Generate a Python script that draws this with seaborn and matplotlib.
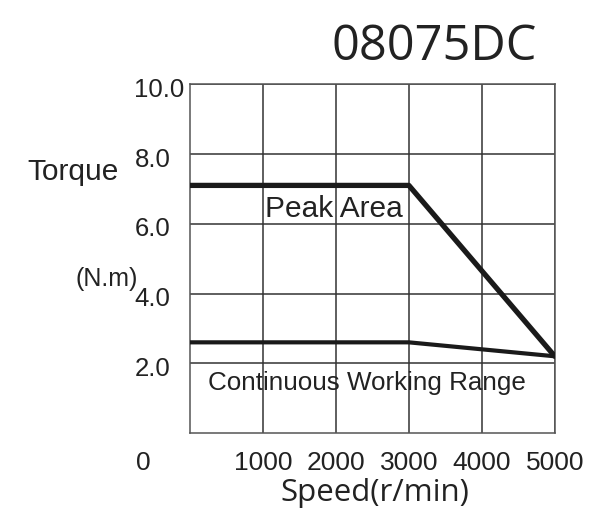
import matplotlib
matplotlib.use("Agg")
import matplotlib.pyplot as plt
import matplotlib.transforms as mtransforms
import seaborn as sns
import pandas as pd

# curve data
speed = [0, 3000, 5000]
peak_torque = [7.1, 7.1, 2.2]
cont_torque = [2.6, 2.6, 2.2]

x_ticks = [1000, 2000, 3000, 4000, 5000]
y_ticks = [2.0, 4.0, 6.0, 8.0, 10.0]

sns.set_style("white")
plt.rcParams["font.family"] = ["Liberation Sans", "DejaVu Sans"]

df = pd.concat([
    pd.DataFrame({"speed": speed, "torque": peak_torque, "curve": "peak"}),
    pd.DataFrame({"speed": speed, "torque": cont_torque, "curve": "cont"}),
])

fig = plt.figure(figsize=(6.09, 5.30), dpi=100)
ax = fig.add_axes([0.312, 0.183, 0.599, 0.658])

sns.lineplot(data=df[df.curve == "peak"], x="speed", y="torque", ax=ax,
             color="#1a1a1a", linewidth=3.8, legend=False, zorder=3)
sns.lineplot(data=df[df.curve == "cont"], x="speed", y="torque", ax=ax,
             color="#1a1a1a", linewidth=3.0, legend=False, zorder=3)

ax.set_xlim(0, 5000)
ax.set_ylim(0, 10)
ax.set_xticks(x_ticks)
ax.set_yticks(y_ticks)
ax.set_xticklabels([str(v) for v in x_ticks], fontsize=19, color="#222222")
ax.set_yticklabels([f"{v:.1f}" for v in y_ticks], fontsize=18.5, color="#222222",
                   ha="left")
ax.tick_params(axis="y", length=0, pad=40)
ax.tick_params(axis="x", length=0, pad=13)

# y labels sit a little below their grid lines in the original
shift = mtransforms.ScaledTranslation(0, -3 / 100, fig.dpi_scale_trans)
for lab in ax.get_yticklabels():
    lab.set_transform(lab.get_transform() + shift)

ax.grid(True, color="#333333", linewidth=1.1)
for s in ax.spines.values():
    s.set_color("#555555")
    s.set_linewidth(1.1)
ax.set_xlabel("")
ax.set_ylabel("")

ax.text(-644, -0.86, "0", fontsize=19, color="#222222", ha="center", va="center")

ax.text(1027, 6.42, "Peak Area", fontsize=21.5, color="#222222", ha="left", va="center")
ax.text(247, 1.43, "Continuous Working Range", fontsize=18.7, color="#222222",
        ha="left", va="center")

fig.text(0.12, 0.675, "Torque", fontsize=21.5, color="#222222", ha="center", va="center")
fig.text(0.175, 0.474, "(N.m)", fontsize=18, color="#222222", ha="center", va="center")
fig.text(0.616, 0.07, "Speed(r/min)", fontsize=22.5, color="#222222", ha="center",
         va="center", family="Open Sans")
fig.text(0.713, 0.911, "08075DC", fontsize=35, color="#222222", ha="center",
         va="center", family="Open Sans")

fig.savefig("out.png", dpi=100, facecolor="white")
